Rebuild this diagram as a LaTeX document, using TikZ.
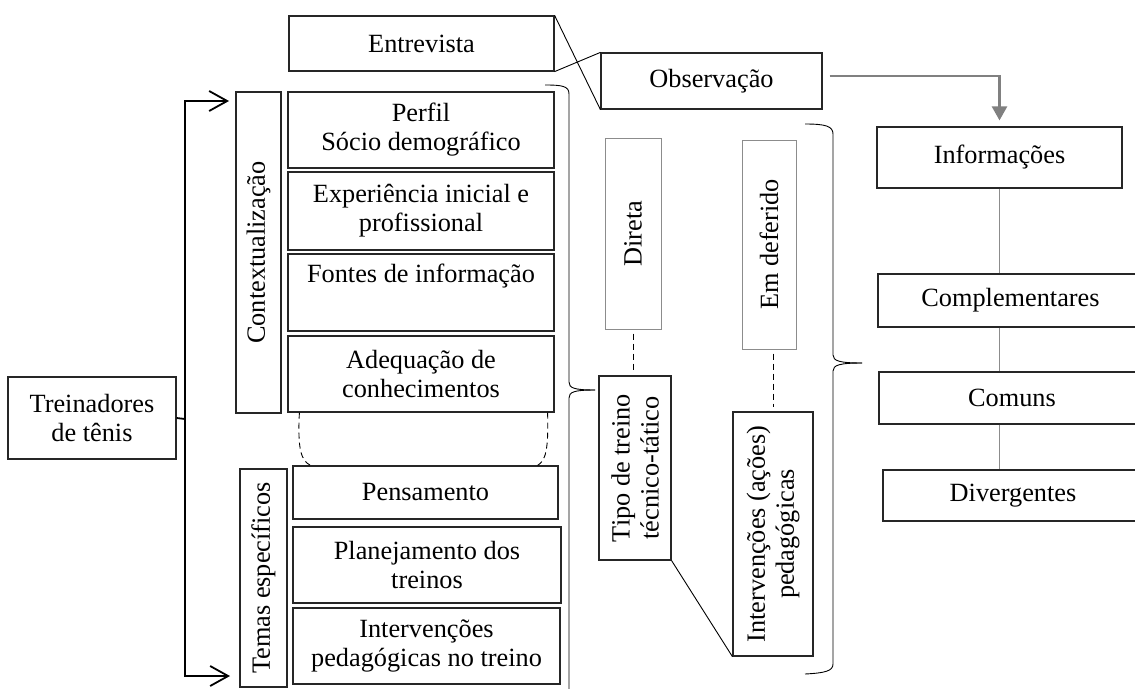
\documentclass[tikz,border=0pt]{standalone}
\usepackage{fontspec}
\setmainfont{Liberation Serif}
\usetikzlibrary{arrows,arrows.meta,calc}

\begin{document}
\begin{tikzpicture}[x=1pt,y=-1pt]
\tikzset{caixa/.style={draw=black!85,line width=1.2pt,inner sep=0pt,align=center,
font=\fontsize{26.3pt}{29pt}\selectfont}}
\tikzset{vcaixa/.style={caixa,rotate=90}}
\tikzset{cinza/.style={caixa,draw=black!45,line width=1pt}}
\tikzset{fio/.style={line width=0.9pt}}
\tikzset{elo/.style={line width=1.3pt,draw=black!45}}
\tikzset{ramo/.style={line width=1.8pt}}
\useasboundingbox (0,0) rectangle (1135,688);
\clip (0,0) rectangle (1135,688);

\node[caixa,minimum width=168pt,minimum height=82pt] (treinadores) at (92,418) {Treinadores\\de tênis};
\node[caixa,minimum width=265pt,minimum height=55pt] (entrevista) at (421.5,43.5) {Entrevista};
\node[caixa,minimum width=221pt,minimum height=56pt] (observacao) at (711.5,81) {Observação};

\node[vcaixa,minimum width=321pt,minimum height=45pt] (contexto) at (258.5,252.5) {Contextualização};
\node[caixa,minimum width=266pt,minimum height=76pt] (perfil) at (421,130) {Perfil\\Sócio demográfico};
\node[caixa,minimum width=266pt,minimum height=78pt] (experiencia) at (421,211) {Experiência inicial e\\profissional};
\node[caixa,minimum width=266pt,minimum height=77pt] (fontes) at (421,292.5) {Fontes de informação\\\strut};
\node[caixa,minimum width=266pt,minimum height=76pt] (adequacao) at (421,374) {Adequação de\\conhecimentos};

\node[vcaixa,minimum width=218pt,minimum height=47pt] (temas) at (263.5,578) {Temas específicos};
\node[caixa,minimum width=265pt,minimum height=53pt] (pensamento) at (425.5,492.5) {Pensamento};
\node[caixa,minimum width=268pt,minimum height=76pt] (planejamento) at (427,565) {Planejamento dos\\treinos};
\node[caixa,minimum width=267pt,minimum height=76pt] (intervencoes) at (426.5,646) {Intervenções\\pedagógicas no treino};

\node[cinza,rotate=90,minimum width=191pt,minimum height=56pt] (direta) at (633,233.5) {Direta};
\node[cinza,rotate=90,minimum width=209pt,minimum height=54pt] (deferido) at (769,244.5) {Em deferido};
\node[vcaixa,minimum width=184pt,minimum height=72pt] (tipo) at (635,468) {Tipo de treino\\técnico-tático};
\node[vcaixa,minimum width=244pt,minimum height=80pt] (acoes) at (773,534) {Intervenções (ações)\\pedagógicas};

\node[caixa,minimum width=245pt,minimum height=61pt] (informacoes) at (999.5,157.5) {Informações};
\node[caixa,minimum width=265pt,minimum height=53pt] (complementares) at (1010.5,300.5) {Complementares};
\node[caixa,minimum width=266pt,minimum height=52pt] (comuns) at (1012,398) {Comuns};
\node[caixa,minimum width=260pt,minimum height=51pt] (divergentes) at (1013,495.5) {Divergentes};

\coordinate (garfo) at (185,419);
\coordinate (topo) at (229,101);
\coordinate (base) at (230,676);
\draw[ramo] (treinadores.east) -- (garfo);
\draw[ramo,-{Straight Barb[length=18pt,width=20pt]}] (garfo) |- (topo);
\draw[ramo,-{Straight Barb[length=18pt,width=20pt]}] (garfo) |- (base);

\draw[fio] (entrevista.north east) -- (observacao.south west);
\draw[fio] (entrevista.south east) -- (observacao.north west);
\draw[line width=2.5pt,draw=black!50,-{Triangle[width=15pt,length=14pt]}]
([shift={(7,-5)}]observacao.east) -| ([yshift=6pt]informacoes.north);

\draw[elo] (informacoes.south) -- (informacoes.south |- complementares.north);
\draw[elo] (informacoes.south |- complementares.south) -- (informacoes.south |- comuns.north);
\draw[elo] (informacoes.south |- comuns.south) -- (informacoes.south |- divergentes.north);

\draw[fio,dash pattern=on 6pt off 4pt] ([xshift=12pt]adequacao.south west)
.. controls +(-2,38) and +(-9,-5) .. ([xshift=18pt]pensamento.north west);
\draw[fio,dash pattern=on 6pt off 4pt] ([xshift=-7pt]adequacao.south east)
.. controls +(1,38) and +(8,-5) .. ([xshift=-21pt]pensamento.north east);
\draw[fio,dash pattern=on 6pt off 4pt,shorten <=4pt,shorten >=4pt] (direta.west) -- (direta.west |- tipo.east);
\draw[fio,dash pattern=on 6pt off 4pt,shorten <=4pt,shorten >=4pt] (acoes.east |- deferido.west) -- (acoes.east);
\draw[fio] (tipo.south west) -- (acoes.north west);

\draw[fio] (545,85) .. controls (562,85) and (569,86) .. (569,94) -- (569,382)
.. controls (569,388) and (574,390) .. (595,390);
\draw[fio] (595,390) .. controls (574,390) and (569,392) .. (569,398) -- (569,700);
\draw[fio] (805,124) .. controls (825,124) and (833,126) .. (833,134) -- (833,355)
.. controls (833,361) and (840,363) .. (862,363);
\draw[fio] (862,363) .. controls (840,363) and (833,365) .. (833,371) -- (833,664)
.. controls (833,671) and (825,673) .. (805,674);
\end{tikzpicture}
\end{document}
